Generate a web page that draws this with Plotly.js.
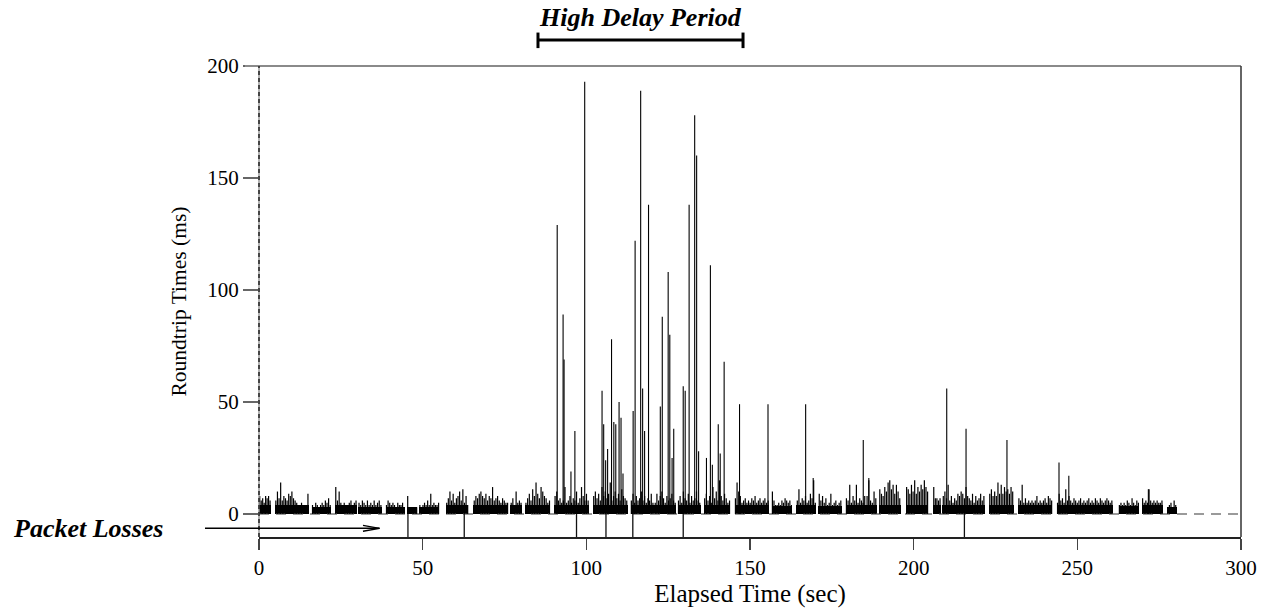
<!DOCTYPE html>
<html><head><meta charset="utf-8">
<script src="https://cdn.plot.ly/plotly-3.0.1.min.js"></script>
<style>html,body{margin:0;padding:0;background:#fff}#chart{width:1271px;height:611px}</style>
</head><body><div id="chart"></div>
<script>
// ---- data ----
const clusterStart = [0.0,4.9,16.1,23.2,30.3,38.7,45.2,48.9,57.1,65.5,76.8,81.3,90.2,102.0,113.5,120.8,127.9,135.9,145.3,156.6,164.2,170.9,179.2,185.5,189.4,197.6,205.9,208.8,223.0,231.9,243.7,262.6,269.7,277.4];
const clusterEnd   = [3.6,15.2,22.0,29.9,37.5,44.6,48.4,55.1,64.0,76.2,80.3,89.0,100.8,112.6,120.6,127.4,134.9,144.0,155.8,162.9,170.2,178.0,185.3,188.7,196.0,204.5,208.3,221.7,230.5,242.4,260.8,268.9,276.1,280.3];
const clusterFloor = [3.8,3.8,3.2,3.8,3.2,3.2,3.2,3.2,3.8,3.8,3.8,3.8,3.8,3.8,3.8,3.8,3.8,3.8,3.8,3.5,3.8,3.5,3.8,3.8,4.2,4.2,3.8,3.8,4.2,3.8,3.8,3.5,3.8,3.0];
const clusterRTT = [
  [8,6,7,5,8,7,8,6],
  [6,10,7,14,6,8,7,6,9,8,10,7,6,5,4,4,5,3,3,4,9],
  [4,3,5,4,3,4,5,4,6,5,7,4],
  [12,6,10,5,4,5,4,4,5,6,4,5,6],
  [5,4,6,5,4,6,4,5,4,6,4,5,6,4],
  [4,6,5,4,5,4,3,5,4,4,5,3],
  [8,3,3,3,3,3,3],
  [4,3,4,5,4,6,4,9,4,5,4,4,5],
  [5,7,10,6,9,5,7,8,10,6,11,5,8,4],
  [6,8,7,9,10,8,7,9,6,8,7,12,6,7,8,6,5,7,6,5,5],
  [5,7,4,10,5,6,5],
  [5,7,9,6,11,8,14,9,7,12,10,8,7,5,6],
  [8,10,6,7,5,6,12,5,6,8,5,7,6,10,5,7,12,8,6,9,6],
  [8,10,7,9,6,12,8,10,7,9,14,6,8,10,7,9,6,11,8,7,6],
  [6,9,5,8,6,7,10,6,8,5,7,6,9,5],
  [5,9,6,8,10,7,5,8,6,7,9,6,5],
  [6,8,5,10,7,6,9,5,8,6,7,10,6,5],
  [7,9,6,8,5,12,7,10,6,15,8,6,9,7,5,6],
  [7,14,10,8,5,6,7,5,6,5,7,6,8,5,6,7,5,6,7,5,6],
  [10,6,4,4,5,4,6,5,7,6,5,6,4],
  [6,11,5,7,6,8,5,6,9,7,15,5],
  [9,6,8,5,7,4,5,9,4,5,6,4,5,6],
  [7,6,13,5,8,6,13,5,7,6,5,8],
  [8,15,6,5,10,7],
  [11,9,8,12,10,14,15,11,13,9,13,10,7],
  [12,11,9,13,10,15,9,12,10,13,11,15,12,10],
  [12,7,7,6,7],
  [8,10,7,13,6,8,5,7,6,9,8,10,9,7,12,8,7,6,9,5,8,6,7,9,6,8],
  [9,11,8,10,8,14,9,13,9,12,10,11,9,12,10],
  [7,6,13,5,7,5,6,5,6,5,6,8,5,6,5,6,7,5,8,7,6],
  [5,9,6,7,5,11,6,8,6,5,7,6,5,6,7,5,6,5,6,7,5,6,5,7,6,5,7,6,5,6,7,6,5,6],
  [4,5,4,5,4,6,5,4,7,5,4,6,5],
  [7,5,6,5,11,6,5,6,5,6,5,5,6],
  [2,4,5,3,6,4]
];
const spikeTime = [91.1,92.9,93.2,95.3,96.5,99.5,104.8,105.3,105.9,106.5,107.7,108.4,109.0,110.0,110.6,111.2,114.3,114.9,116.6,117.2,117.8,119.0,122.6,123.2,125.0,125.5,126.2,126.7,129.6,130.2,131.4,133.1,133.7,134.3,136.7,137.9,138.5,140.3,140.9,142.1,146.8,155.5,167.0,169.3,184.6,186.3,210.1,216.0,228.5,244.4,247.4,271.7];
const spikeRTT  = [129,89,69,19,37,193,55,40,24,29,78,41,40,50,43,18,46,122,189,56,37,138,48,88,108,80,25,38,57,55,138,178,160,28,25,111,22,40,27,68,49,49,49,16,33,16,56,38,33,23,17,11];
const lossTime  = [45.5,62.7,97.0,106.0,114.2,129.6,215.5];
const xTicks = [0,50,100,150,200,250,300];
const yTicks = [0,50,100,150,200];
const yMin = -10.3, yMax = 200, xMin = 0, xMax = 300;

// ---- build traces ----
const bx = [], by = [];
clusterRTT.forEach((vals, i) => {
  const s = clusterStart[i], e = clusterEnd[i], n = vals.length, step = (e - s) / n;
  vals.forEach((v, j) => { const t = s + (j + 0.5) * step; bx.push(t, t, null); by.push(0, v, null); });
});
const sx = [], sy = [];
spikeTime.forEach((t, i) => { sx.push(t, t, null); sy.push(0, spikeRTT[i], null); });
const lx = [], ly = [];
lossTime.forEach(t => { lx.push(t, t, null); ly.push(0, yMin, null); });

const traces = [
  {type:'scatter', mode:'lines', x:[xMin, xMax], y:[0, 0], line:{color:'#7a7a7a', width:1.5, dash:'10px,7px'}, hoverinfo:'skip'},
  {type:'bar', x:clusterStart.map((s,i)=>(s+clusterEnd[i])/2), y:clusterFloor, width:clusterStart.map((s,i)=>clusterEnd[i]-s), marker:{color:'#000', line:{width:0}}, hoverinfo:'skip'},
  {type:'scatter', mode:'lines', x:bx, y:by, line:{color:'#000', width:1.2}, hoverinfo:'skip'},
  {type:'scatter', mode:'lines', x:sx, y:sy, line:{color:'#000', width:1.1}, hoverinfo:'skip'},
  {type:'scatter', mode:'lines', x:lx, y:ly, line:{color:'#111', width:1.3}, hoverinfo:'skip'}
];

const serif = '"Liberation Serif", "Times New Roman", Times, serif';
const layout = {
  width:1271, height:611,
  margin:{l:259, r:30, t:66, b:74, pad:0},
  paper_bgcolor:'#fff', plot_bgcolor:'#fff',
  showlegend:false, bargap:0,
  font:{family:serif, size:21, color:'#000'},
  xaxis:{range:[xMin,xMax], tickvals:xTicks, ticks:'outside', ticklen:11, tickwidth:1.5, tickcolor:'#444',
         showline:true, linecolor:'#222', linewidth:1.5, showgrid:false, zeroline:false, fixedrange:true,
         tickfont:{family:serif, size:21, color:'#000'},
         title:{text:'Elapsed Time (sec)', font:{family:serif, size:25, color:'#000'}, standoff:2}},
  yaxis:{range:[yMin,yMax], tickvals:yTicks, ticks:'outside', ticklen:15, tickwidth:1.5, tickcolor:'#666',
         showline:false, showgrid:false, zeroline:false, fixedrange:true,
         tickfont:{family:serif, size:21, color:'#000'},
         title:{text:'Roundtrip Times (ms)', font:{family:serif, size:21.5, color:'#000'}, standoff:14}},
  shapes:[
    {type:'line', xref:'paper', yref:'paper', x0:-0.0143, x1:1, y0:1, y1:1, line:{color:'#8a8a8a', width:2}},
    {type:'line', xref:'paper', yref:'paper', x0:1, x1:1, y0:0, y1:1, line:{color:'#333', width:1.5}},
    {type:'line', xref:'paper', yref:'paper', x0:0, x1:0, y0:0, y1:1, line:{color:'#999', width:1.5}},
    {type:'line', xref:'paper', yref:'paper', x0:0, x1:0, y0:0, y1:1, line:{color:'#222', width:1.5, dash:'4px,3px'}},
    // High Delay Period bracket
    {type:'line', xref:'paper', yref:'paper', x0:0.2841, x1:0.4929, y0:1.0552, y1:1.0552, line:{color:'#000', width:3}},
    {type:'line', xref:'paper', yref:'paper', x0:0.2841, x1:0.2841, y0:1.038, y1:1.071, line:{color:'#000', width:3}},
    {type:'line', xref:'paper', yref:'paper', x0:0.4929, x1:0.4929, y0:1.038, y1:1.071, line:{color:'#000', width:3}},
    // Packet Losses arrow
    {type:'line', xref:'paper', yref:'paper', x0:-0.055, x1:0.1227, y0:0.0185, y1:0.0185, line:{color:'#000', width:1.5}},
    {type:'line', xref:'paper', yref:'paper', x0:0.1059, x1:0.1227, y0:0.0248, y1:0.0185, line:{color:'#000', width:1.3}},
    {type:'line', xref:'paper', yref:'paper', x0:0.1059, x1:0.1227, y0:0.0122, y1:0.0185, line:{color:'#000', width:1.3}}
  ],
  annotations:[
    {text:'High Delay Period', xref:'paper', yref:'paper', x:0.388, y:1.104, xanchor:'center', yanchor:'middle', showarrow:false,
     font:{family:serif, size:26, color:'#000', weight:'bold', style:'italic'}},
    {text:'Packet Losses', xref:'paper', yref:'paper', x:-0.1741, y:0.017, xanchor:'center', yanchor:'middle', showarrow:false,
     font:{family:serif, size:26, color:'#000', weight:'bold', style:'italic'}}
  ]
};
Plotly.newPlot('chart', traces, layout, {displayModeBar:false, staticPlot:true});
</script>
</body></html>
